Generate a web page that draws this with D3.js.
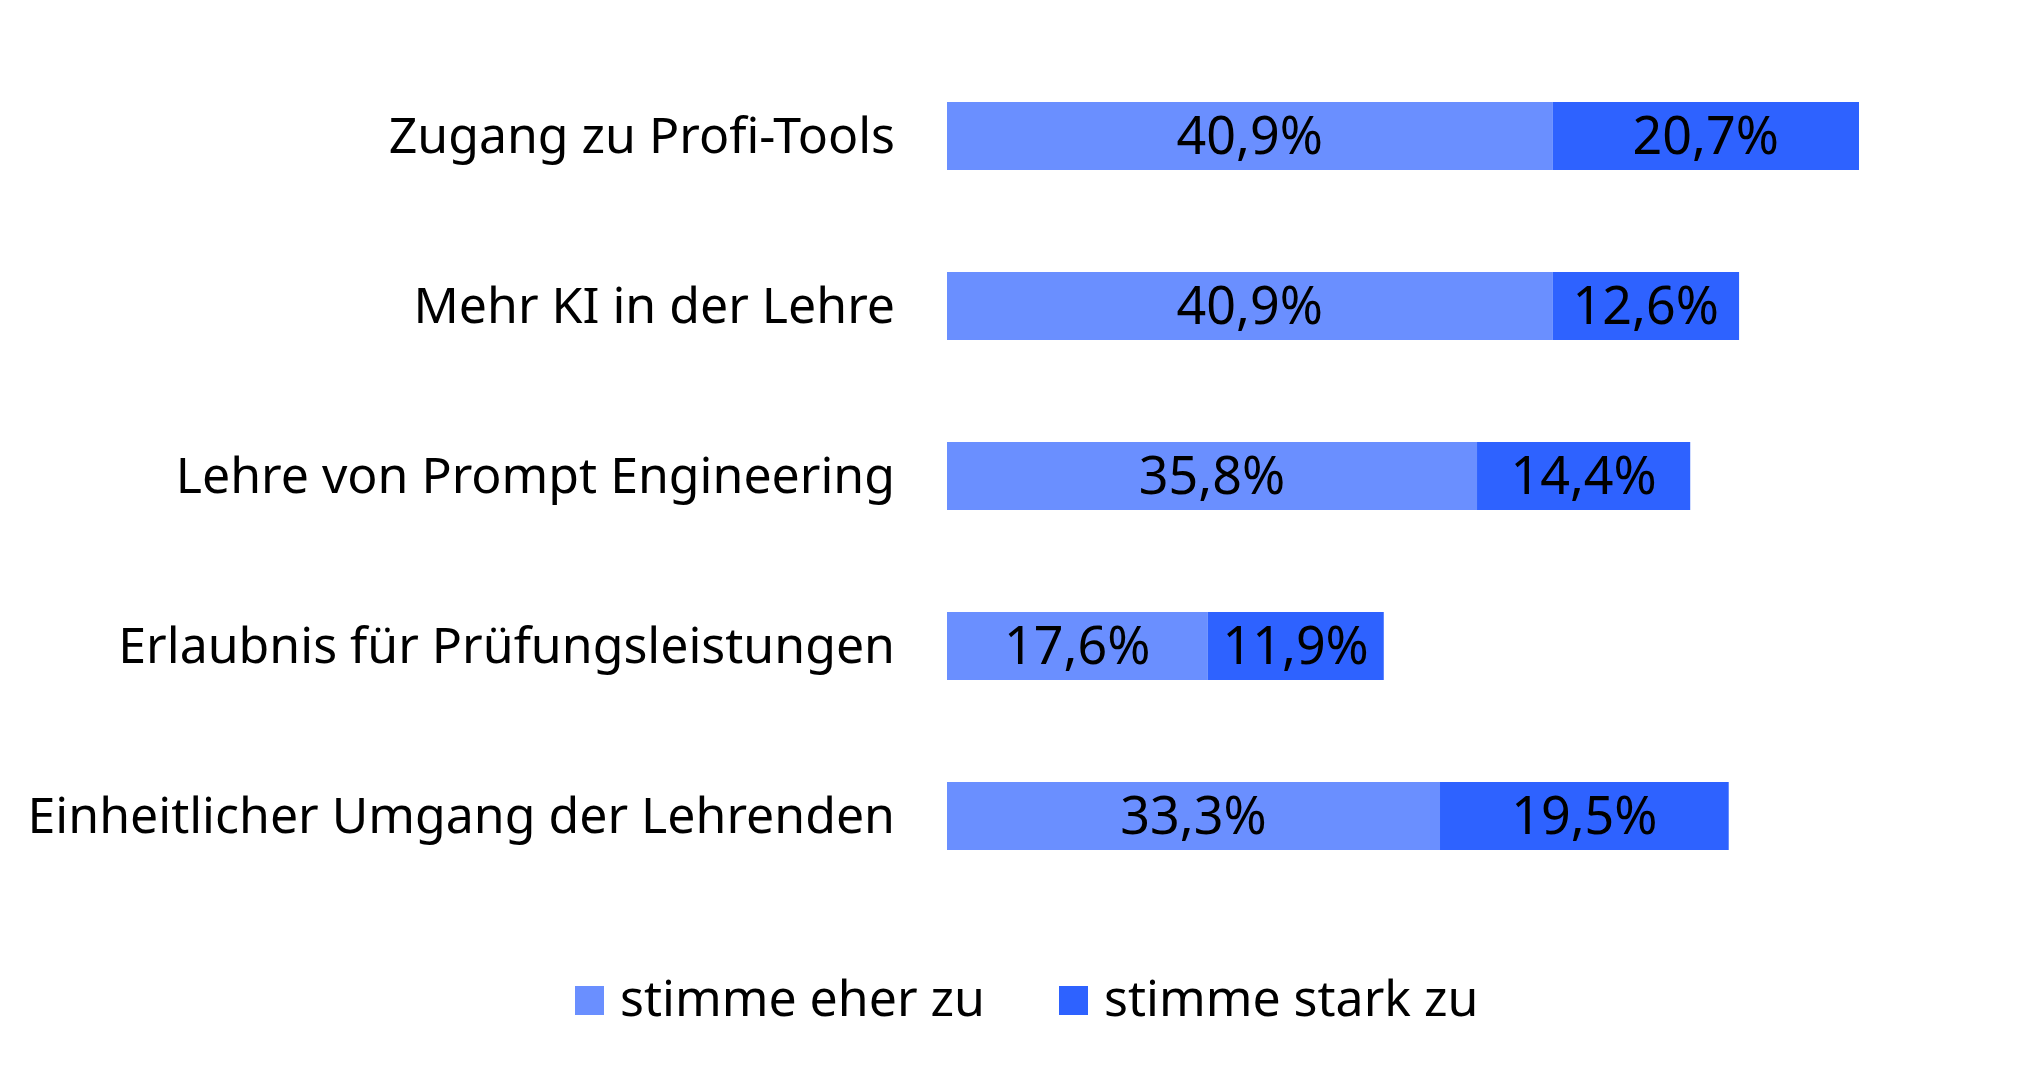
<!DOCTYPE html>
<html>
<head>
<meta charset="utf-8">
<script src="https://cdn.jsdelivr.net/npm/d3@7"></script>
<style>
  body { margin: 0; background: #fff; }
  text { font-family: "Noto Sans", sans-serif; fill: #000; }
</style>
</head>
<body>
<div id="chart"></div>
<script>
const kategorien = [
    "Zugang zu Profi-Tools",
    "Mehr KI in der Lehre",
    "Lehre von Prompt Engineering",
    "Erlaubnis für Prüfungsleistungen",
    "Einheitlicher Umgang der Lehrenden"
];
const eherZu = [40.9, 40.9, 35.8, 17.6, 33.3];
const starkZu = [20.7, 12.6, 14.4, 11.9, 19.5];
const serien = ["stimme eher zu", "stimme stark zu"];
const farben = ["#6a8fff", "#2e62ff"];

const width = 2034;
const height = 1074;
const x0 = 947;
const fontSize = 50;
const wertSize = 52;

const svg = d3.select("#chart").append("svg")
    .attr("width", width)
    .attr("height", height);

const x = d3.scaleLinear().domain([0, 61.6]).range([x0, 1859]);
const y = d3.scaleBand().domain(kategorien).range([51, 901]).paddingInner(0.6).paddingOuter(0.3);

const daten = kategorien.map((k, i) => ({kat: k, "stimme eher zu": eherZu[i], "stimme stark zu": starkZu[i]}));
const stack = d3.stack().keys(serien)(daten);
const color = d3.scaleOrdinal().domain(serien).range(farben);

const fmt = v => v.toFixed(1).replace(".", ",") + "%";

// Balken
const gruppen = svg.append("g")
    .selectAll("g")
    .data(stack).enter()
    .append("g")
    .attr("fill", d => color(d.key));

gruppen.selectAll("rect")
    .data(d => d).enter()
    .append("rect")
    .attr("x", d => x(d[0]))
    .attr("y", d => y(d.data.kat))
    .attr("width", d => x(d[1]) - x(d[0]))
    .attr("height", y.bandwidth());

gruppen.selectAll("text")
    .data(d => d).enter()
    .append("text")
    .attr("x", d => (x(d[0]) + x(d[1])) / 2)
    .attr("y", d => y(d.data.kat) + y.bandwidth() / 2 + 18)
    .attr("text-anchor", "middle")
    .attr("font-size", wertSize)
    .text(d => fmt(d[1] - d[0]));

// Kategorien
svg.append("g")
    .selectAll("text")
    .data(kategorien).enter()
    .append("text")
    .attr("x", 895)
    .attr("y", d => y(d) + y.bandwidth() / 2 + 17)
    .attr("text-anchor", "end")
    .attr("font-size", fontSize)
    .text(d => d);

// Legende
const legendX = [575, 1059];
const legend = svg.append("g");

legend.selectAll("rect")
    .data(serien).enter()
    .append("rect")
    .attr("x", (d, i) => legendX[i])
    .attr("y", 986)
    .attr("width", 29)
    .attr("height", 29)
    .attr("fill", d => color(d));

legend.selectAll("text")
    .data(serien).enter()
    .append("text")
    .attr("x", (d, i) => legendX[i] + 45)
    .attr("y", 1016)
    .attr("font-size", fontSize)
    .text(d => d);
</script>
</body>
</html>
